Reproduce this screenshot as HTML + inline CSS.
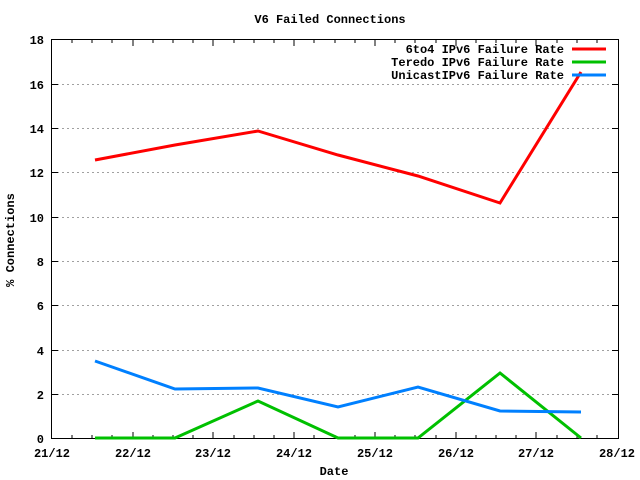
<!DOCTYPE html>
<html><head><style>body{margin:0;background:#fff}svg{display:block}text{font-family:"Liberation Mono",monospace;font-weight:bold;font-size:12px;fill:#000}</style></head><body>
<svg width="640" height="480" xmlns="http://www.w3.org/2000/svg">
<g stroke="#a0a0a0" stroke-dasharray="2,3" stroke-width="1">
<line x1="52" y1="394.5" x2="618" y2="394.5"/><line x1="52" y1="350.5" x2="618" y2="350.5"/><line x1="52" y1="305.5" x2="618" y2="305.5"/><line x1="52" y1="261.5" x2="618" y2="261.5"/><line x1="52" y1="217.5" x2="618" y2="217.5"/><line x1="52" y1="172.5" x2="618" y2="172.5"/><line x1="52" y1="128.5" x2="618" y2="128.5"/><line x1="52" y1="84.5" x2="618" y2="84.5"/>
</g>
<g stroke="#000" stroke-width="1">
<rect x="51.5" y="39.5" width="567" height="399" fill="none"/>
<path d="M52 394.5h6M52 350.5h6M52 305.5h6M52 261.5h6M52 217.5h6M52 172.5h6M52 128.5h6M52 84.5h6M618 394.5h-6M618 350.5h-6M618 305.5h-6M618 261.5h-6M618 217.5h-6M618 172.5h-6M618 128.5h-6M618 84.5h-6"/>
<path d="M72 438v-3M92 438v-3M112 438v-3M133 438v-6M153 438v-3M173 438v-3M193 438v-3M213 438v-6M234 438v-3M254 438v-3M274 438v-3M294 438v-6M314 438v-3M335 438v-3M355 438v-3M375 438v-6M395 438v-3M415 438v-3M436 438v-3M456 438v-6M476 438v-3M496 438v-3M516 438v-3M536 438v-6M557 438v-3M577 438v-3M597 438v-3"/>
<path d="M72 40v3M92 40v3M112 40v3M133 40v6M153 40v3M173 40v3M193 40v3M213 40v6M234 40v3M254 40v3M274 40v3M294 40v6M314 40v3M335 40v3M355 40v3M375 40v6M395 40v3M415 40v3M436 40v3M456 40v6M476 40v3M496 40v3M516 40v3M536 40v6M557 40v3M577 40v3M597 40v3"/>
</g>
<text x="330" y="23" text-anchor="middle">V6 Failed Connections</text>
<g text-anchor="end">
<text x="44" y="443">0</text><text x="44" y="399">2</text><text x="44" y="355">4</text><text x="44" y="310">6</text><text x="44" y="266">8</text><text x="44" y="222">10</text><text x="44" y="177">12</text><text x="44" y="133">14</text><text x="44" y="89">16</text><text x="44" y="44">18</text>
</g>
<g text-anchor="middle">
<text x="52" y="457">21/12</text><text x="133" y="457">22/12</text><text x="213" y="457">23/12</text><text x="294" y="457">24/12</text><text x="375" y="457">25/12</text><text x="456" y="457">26/12</text><text x="536" y="457">27/12</text><text x="617" y="457">28/12</text>
<text x="334" y="475">Date</text>
</g>
<text transform="translate(14,240) rotate(-90)" text-anchor="middle">% Connections</text>
<g fill="none" stroke-width="3" stroke-linejoin="miter">
<polyline stroke="#ff0000" points="95,160 175,145 258,131 338,155 418,176 500,203 581,72"/>
<polyline stroke="#00c000" points="95,438 175,438 258,401 338,438 418,438 500,373 581,438"/>
<polyline stroke="#0080ff" points="95,361 175,389 258,388 338,407 418,387 500,411 581,412"/>
<line stroke="#ff0000" x1="572" y1="49" x2="606" y2="49"/>
<line stroke="#00c000" x1="572" y1="62" x2="606" y2="62"/>
<line stroke="#0080ff" x1="572" y1="75" x2="606" y2="75"/>
</g>
<g text-anchor="end">
<text x="564" y="53">6to4 IPv6 Failure Rate</text>
<text x="564" y="66">Teredo IPv6 Failure Rate</text>
<text x="564" y="79">UnicastIPv6 Failure Rate</text>
</g>
</svg>
</body></html>
